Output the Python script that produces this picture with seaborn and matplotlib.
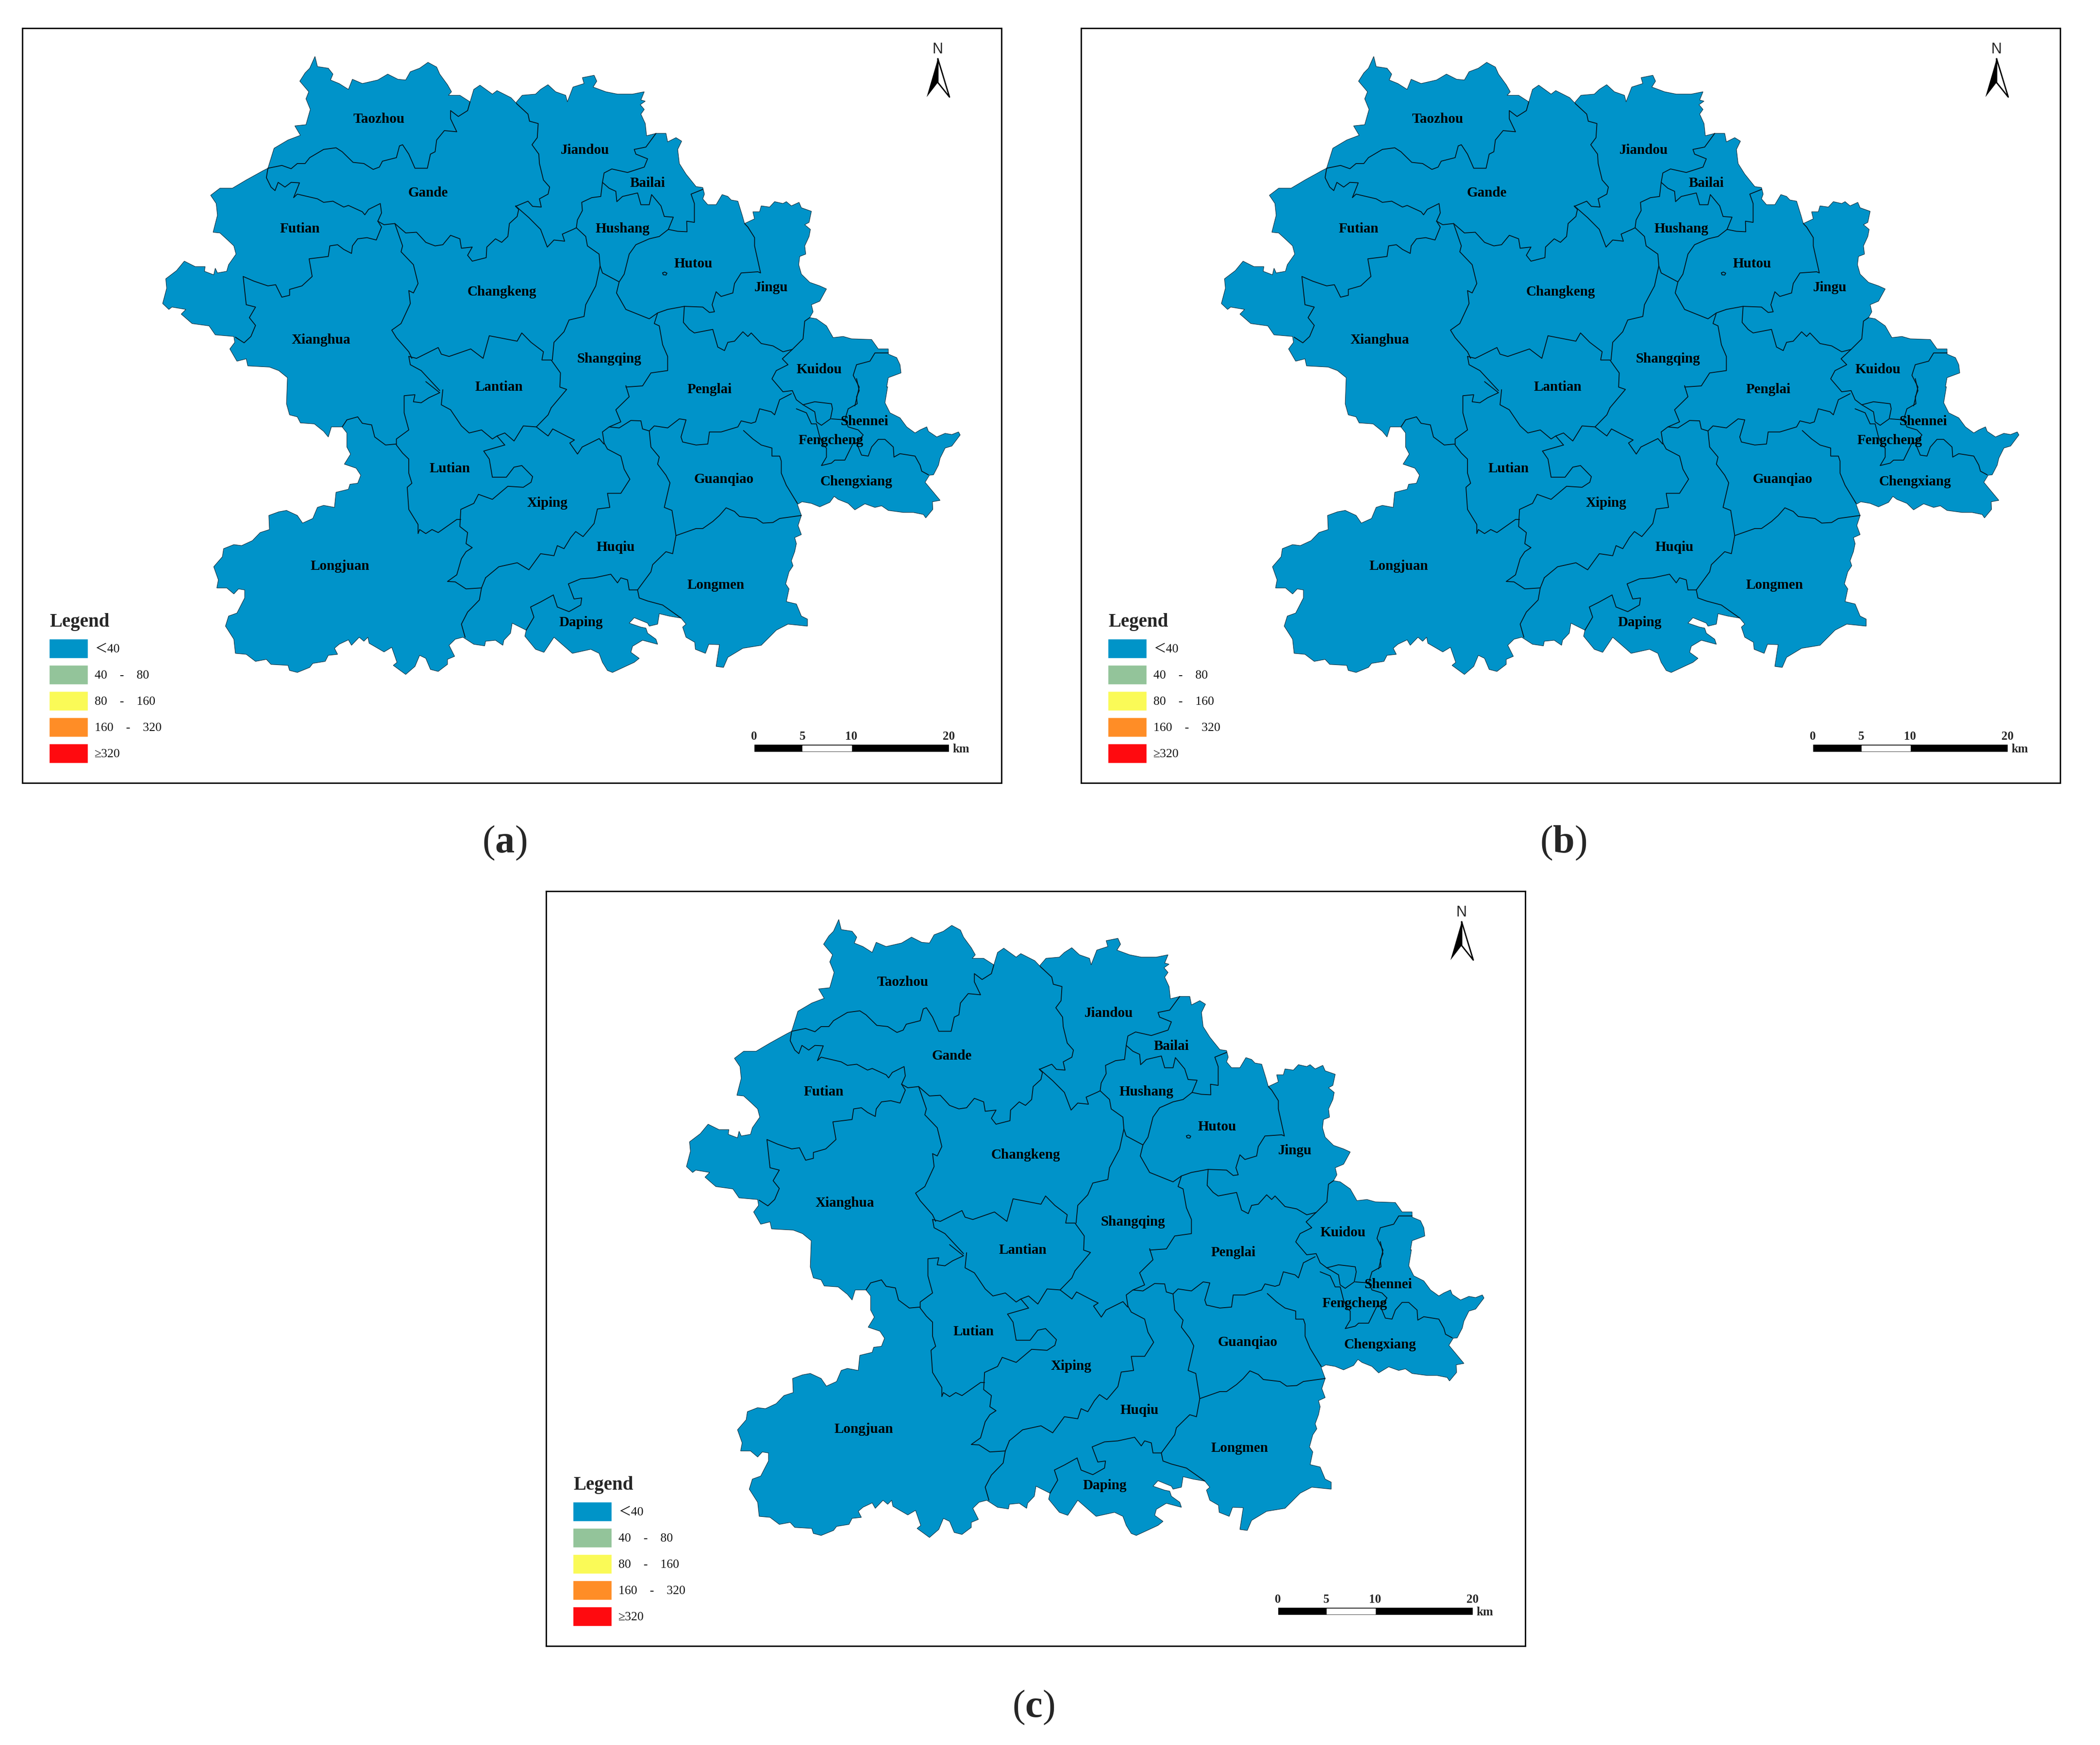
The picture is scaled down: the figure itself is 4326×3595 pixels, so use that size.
import pandas as pd
import matplotlib
matplotlib.use('Agg')
import matplotlib.pyplot as plt
import seaborn as sns

# crop windows the outlines were traced in: left, top, x scale, y scale
CROPS = {1: (300, 80, 1.568, 2.063), 2: (1000, 80, 1.452, 2.063),
         3: (300, 780, 1.568, 2.412), 4: (1000, 780, 1.452, 2.412)}

# county group outer boundary, clockwise from the Taozhou peak
outline = [
 (1, [(547,75),(555,118),(590,125),(605,150),(597,175),(625,190),(655,215),(668,172),(700,190),(750,175),(782,150),(815,172),(840,175),(855,140),(885,125),(912,100),(940,120),(950,150),(975,195),(988,225),(978,240),(1015,240),(1048,268),(1060,215),(1080,197),(1120,235),(1135,220),(1180,250),(1198,275)]),
 (2, [(92,270),(110,240),(150,235),(165,215),(187,195),(210,225),(240,240),(245,268),(262,205),(295,190),(290,165),(325,155),(333,180),(322,205),(360,225),(395,235),(440,235),(475,225),(465,260),(478,265),(463,280),(475,300),(465,320),(478,360),(482,412),(510,402),(540,402),(545,438),(570,420),(587,435),(575,470),(580,530),(600,575),(630,628),(650,632),(655,660),(650,680),(665,705),(690,705),(708,662),(725,670),(735,685),(755,690),(768,750),(775,785),(805,765),(800,735),(820,735),(825,710),(850,715),(865,692),(890,700),(900,692),(915,710),(938,695),(945,718),(975,733),(968,780),(955,790),(972,810),(968,840),(955,880),(958,915),(940,925),(937,960),(945,1000),(970,1035),(1000,1050),(1020,1063),(1000,1115),(975,1130),(980,1160),(970,1185),(990,1190),(1020,1220),(1040,1270),(1070,1265),(1095,1275),(1155,1278),(1175,1318),(1205,1318),(1205,1340),(1230,1355),(1240,1385),(1243,1420),(1205,1440),(1200,1480)]),
 (4, [(1203,40),(1195,120),(1210,170),(1240,195),(1260,240),(1285,270),(1300,255),(1320,240),(1325,262),(1350,290),(1375,272),(1395,278),(1415,265),(1420,280),(1395,335),(1375,345),(1360,395),(1355,430),(1340,478),(1328,480),(1315,515),(1335,555),(1360,605),(1337,612),(1338,650),(1317,692),(1310,675),(1280,665),(1250,665),(1205,655),(1185,632),(1165,640),(1135,622),(1105,652),(1085,620),(1055,600),(1043,585),(1030,615),(1000,637),(975,620),(947,612),(933,625),(945,680),(935,730),(945,775),(925,790),(930,820),(925,860),(915,905),(920,930),(908,960),(898,1020),(908,1045),(900,1108),(930,1120),(945,1180),(963,1195),(963,1230),(905,1220),(870,1250),(825,1325),(770,1340),(725,1385),(712,1435),(690,1430),(700,1322),(668,1320),(658,1365),(628,1345),(626,1310),(600,1285),(590,1235),(600,1220),(585,1190),(550,1180),(520,1168),(515,1220),(490,1230),(485,1215),(445,1188),(430,1215),(465,1235),(480,1240),(485,1265),(510,1295),(515,1320),(470,1300),(440,1330),(435,1360),(460,1390),(445,1410),(380,1460),(365,1450),(350,1410),(340,1365),(315,1345),(260,1365),(205,1285),(175,1360),(150,1345),(118,1280),(122,1250),(80,1215),(75,1265),(55,1300),(52,1325),(30,1300)]),
 (3, [(1098,1305),(1095,1328),(1060,1320),(1025,1285),(1000,1295),(980,1325),(998,1380),(975,1395),(975,1420),(945,1455),(920,1445),(905,1390),(885,1375),(870,1430),(840,1470),(800,1425),(812,1410),(795,1335),(770,1358),(722,1315),(718,1285),(705,1305),(690,1285),(665,1325),(655,1298),(625,1320),(610,1340),(620,1370),(590,1375),(580,1405),(540,1415),(530,1435),(490,1460),(465,1450),(460,1425),(405,1420),(390,1395),(355,1405),(325,1370),(290,1365),(285,1295),(258,1230),(268,1180),(295,1165),(320,1090),(320,1050),(300,1045),(285,1070),(262,1040),(230,1040),(235,1000),(220,935),(248,885),(252,845),(285,825),(310,830),(345,805),(370,765),(400,750),(398,680),(430,662),(455,655),(490,680),(507,718),(540,695),(555,640),(575,630),(610,640),(615,565),(655,550),(660,525),(685,520),(695,480),(680,445),(642,425),(662,375),(650,340),(650,270),(635,240),(600,240),(590,290),(575,262),(545,225),(500,220),(490,190),(465,180),(455,125),(458,0)]),
 (1, [(458,1440),(430,1410),(400,1395),(330,1390),(325,1360),(295,1370),(272,1318),(288,1290),(285,1265),(225,1258),(205,1220),(150,1210),(115,1170),(130,1150),(85,1140),(75,1150),(55,1125),(68,1060),(65,1020),(100,985),(125,945),(160,968),(192,968),(190,988),(220,1003),(225,975),(232,995),(262,988),(268,960),(292,915),(285,880),(265,855),(240,825),(218,822),(232,750),(228,700),(210,665),(240,635),(280,635),(325,600),(380,560),(395,550),(415,465),(460,430),(500,410),(482,370),(518,365),(532,300),(518,255),(527,225),(498,180),(515,145),(530,125)]),
]

# internal county borders
borders = [
 (1, [(1048,268),(1040,305),(1010,330),(985,305),(985,340),(1005,395),(965,390),(940,430),(935,480),(920,490),(910,550),(870,550),(850,490),(830,450),(820,455),(810,505),(765,520),(755,545),(735,555),(705,530),(670,525),(635,480),(615,463),(575,470),(530,505),(515,530),(490,530),(470,552),(440,538),(395,550)]),
 (1, [(395,550),(390,590),(405,630),(418,645),(428,610),(450,630),(470,610),(497,612),(478,675),(490,660),(555,680),(575,695),(605,690),(640,715),(655,708),(700,735),(708,748),(720,725),(758,700),(762,740),(750,775)]),
 (1, [(750,775),(770,790),(805,785),(840,825),(875,822),(905,865),(935,880),(960,875),(985,835),(1015,850),(1020,890),(1055,885),(1040,920),(1055,945),(1100,930),(1102,885),(1130,850),(1150,865),(1170,840),(1175,785),(1200,755),(1205,725),(1195,712)]),
 (1, [(1198,275),(1235,320),(1240,350),(1268,360),(1265,420),(1248,450),(1270,490),(1272,530),(1285,600),(1305,630),(1300,660),(1272,680),(1278,715),(1250,712),(1235,690),(1195,712)]),
 (1, [(750,775),(762,800),(745,855),(715,845),(685,850),(668,880),(665,912),(640,895),(620,875),(595,880),(590,925),(528,935),(538,1010),(505,1050),(465,1065),(465,1090),(440,1098),(420,1045),(395,1050),(350,1030),(315,1010),(325,1130),(355,1140),(335,1185),(355,1218),(340,1265),(318,1292),(290,1268)]),
 (1, [(805,785),(830,880),(825,905),(865,960),(880,1040),(865,1080),(850,1070),(855,1125),(825,1210),(795,1238),(810,1270),(850,1330),(860,1358)]),
 (1, [(850,1350),(875,1358),(945,1312),(955,1340),(980,1350),(1050,1318),(1090,1358),(1110,1262),(1200,1285),(1215,1250),(1245,1290),(1285,1330),(1280,1365),(1310,1365),(1340,1420),(1338,1480),(1360,1490),(1310,1568)]),
 (1, [(850,1350),(855,1385),(890,1410),(950,1495)]),
 (2, [(90,710),(130,760),(165,810),(185,885),(205,855),(237,860),(230,830),(262,810),(272,803),(275,770),(290,730),(288,695),(318,675),(345,670),(350,610)]),
 (2, [(272,803),(300,840),(305,880),(340,915),(343,965),(350,995),(400,1033)]),
 (2, [(343,965),(330,1050),(300,1130),(295,1180),(250,1195),(235,1245),(205,1290),(200,1365)]),
 (2, [(510,402),(480,460),(445,470),(450,490),(485,510),(475,545),(425,568),(378,553),(355,570),(350,610),(370,635),(390,648),(393,692),(410,670),(455,655),(465,705),(490,705),(497,662),(525,710),(535,755),(562,758),(547,810)]),
 (2, [(547,810),(520,840),(490,850),(450,875),(430,915),(415,1000),(400,1033),(392,1080),(420,1150),(490,1190),(515,1165),(545,1150),(595,1137),(650,1140),(670,1163),(685,1160),(678,1130),(690,1075),(705,1095),(740,1080),(745,1040),(765,995),(815,990),(823,995),(805,880),(805,845),(785,800),(775,785)]),
 (2, [(650,640),(615,660),(625,700),(625,780),(602,775),(603,820),(575,818),(547,810)]),
 (2, [(595,1137),(592,1205),(610,1235),(625,1250),(680,1235),(695,1310),(715,1325),(725,1290),(745,1285),(770,1245),(785,1265),(795,1250),(825,1295),(860,1305),(890,1330),(918,1320),(950,1275),(955,1200),(970,1185)]),
 (2, [(918,1320),(888,1360),(905,1385),(870,1410),(857,1445),(890,1500),(918,1495)]),
 (2, [(1205,1335),(1165,1335),(1150,1370),(1110,1385),(1100,1430),(1118,1480),(1105,1560)]),
 (2, [(515,1165),(505,1210),(520,1220),(530,1300),(545,1350),(545,1410),(495,1420),(470,1475),(420,1480)]),
 (2, [(530,995),(536,991),(543,996),(540,1004),(532,1003),(530,995)]),
 (4, [(918,60),(930,105),(950,130),(985,115),(1035,125),(1038,150),(1032,200),(1005,232),(990,215),(985,165),(950,130)]),
 (4, [(1110,0),(1118,60),(1110,90),(1112,125),(1085,150),(1075,205),(1035,200)]),
 (4, [(1075,205),(1085,240),(1115,255),(1130,280),(1110,320),(1125,380),(1145,385),(1155,340),(1175,302),(1195,302),(1220,340),(1222,390),(1240,373),(1285,385),(1300,430),(1305,460),(1325,478)]),
 (4, [(930,150),(960,170),(975,225),(990,225),(1000,290),(1010,330),(1020,345),(1020,390),(1005,432),(1035,420),(1045,405),(1075,405),(1100,320),(1110,320)]),
 (4, [(915,75),(880,105),(865,180),(855,165),(820,150),(808,215),(795,222),(765,210),(755,240),(705,265),(670,265),(665,325),(630,330),(590,315),(585,290),(600,205),(580,200),(545,245),(505,235),(490,260),(470,250),(465,210),(435,208),(400,245),(370,240),(350,265),(355,320)]),
 (4, [(772,258),(800,300),(825,330),(857,345),(857,385),(880,385),(885,410),(885,470),(900,530),(933,620)]),
 (4, [(490,260),(495,340),(520,390),(515,425),(540,480),(552,518),(535,640),(558,655),(570,780)]),
 (4, [(570,780),(630,745),(650,745),(680,710),(700,680),(720,642),(745,660),(760,685),(810,695),(830,718),(860,715),(880,695),(945,680)]),
 (4, [(570,780),(560,870),(540,860),(500,925),(495,960),(455,1050),(460,1090),(485,1105),(530,1125),(585,1190)]),
 (4, [(203,1075),(165,1110),(135,1135),(145,1185),(122,1250)]),
 (4, [(203,1075),(215,1135),(250,1158),(285,1125),(288,1090),(265,1095),(248,1020),(285,995),(325,990),(375,972),(395,1015),(405,990),(425,1000),(430,1050),(455,1050)]),
 (4, [(420,35),(430,90),(390,155),(405,215),(370,240)]),
 (4, [(355,320),(365,350),(405,385),(415,450),(432,500),(405,570),(365,570),(372,640),(335,648),(325,720),(292,785),(270,760),(255,790),(235,845),(215,830),(205,880),(165,870),(130,950),(95,915),(40,935),(0,990)]),
 (3, [(1098,990),(1085,1040),(1035,1045),(1000,1010),(975,1008),(1005,975),(1020,895),(1035,860),(1055,840),(1035,820),(1040,765),(1015,735),(1018,650),(1060,620),(1075,575),(1120,600),(1170,535),(1220,540),(1245,515),(1250,487),(1215,432),(1190,440),(1165,490),(1120,490),(1110,400),(1092,360),(1160,330)]),
 (3, [(1085,1040),(1078,1100),(1040,1160),(1020,1220),(1032,1285)]),
 (3, [(1018,700),(1005,700),(945,765),(925,750),(905,770),(885,750),(880,770),(880,725),(850,650),(845,540),(860,520),(850,470),(850,400),(830,370),(810,330),(810,300),(850,255),(835,170),(835,85),(870,80),(865,115),(890,120),(915,95),(950,70),(905,15)]),
 (3, [(960,55),(955,130),(985,155),(1020,235),(1045,270),(1085,255),(1120,300),(1135,285),(1160,270),(1190,310),(1220,235),(1262,240)]),
 (3, [(1135,285),(1160,330)]),
 (3, [(635,240),(650,205),(685,190),(700,222),(730,230),(740,290),(775,330),(810,325)]),
 (3, [(1310,145),(1300,180),(1262,240),(1300,285),(1315,250),(1365,290),(1385,305),(1370,320),(1395,375),(1410,340),(1465,298),(1480,325)]),
]

county_names = ['Taozhou', 'Gande', 'Jiandou', 'Bailai', 'Futian', 'Hushang', 'Hutou', 'Jingu',
                'Changkeng', 'Xianghua', 'Shangqing', 'Kuidou', 'Lantian', 'Penglai', 'Shennei',
                'Fengcheng', 'Lutian', 'Guanqiao', 'Chengxiang', 'Xiping', 'Huqiu', 'Longjuan',
                'Longmen', 'Daping']
name_x = [283, 320, 437, 484, 224, 465, 518, 576, 375, 240, 455, 612, 373, 530, 646, 621, 336, 541, 640, 409, 460, 254, 535, 434]
name_y = [88, 143, 111, 136, 170, 170, 196, 214, 217, 253, 267, 275, 288, 290, 314, 328, 349, 357, 359, 375, 408, 422, 436, 464]

legend_labels = ['＜40', '40    -    80', '80    -    160', '160    -    320', '≥320']
legend_colors = ['#0094C8', '#93C49A', '#FAFA57', '#FF8D26', '#FF0A0F']
legend_y = [1336, 1390, 1444, 1498, 1552]
scale_km = [0, 5, 10, 20]
panel_tags = ['a', 'b', 'c']
panel_left = [46, 2227, 1125]
panel_top = [58, 58, 1836]
PANEL_W, PANEL_H = 2017, 1555
DISP = 2.757  # reference px per traced preview px
MAP_BLUE = '#0093C9'
W, H = 4326, 3595


def to_px(crop, pts):
    x0, y0, sx, sy = CROPS[crop]
    return [(x0 + p[0] / sx, y0 + p[1] / sy) for p in pts]


sns.set_theme(style='white')
plt.rcParams['font.family'] = ['Liberation Serif', 'Noto Sans CJK SC', 'DejaVu Serif']
plt.rcParams['mathtext.fontset'] = 'custom'
plt.rcParams['mathtext.rm'] = 'Liberation Serif'
plt.rcParams['mathtext.bf'] = 'Liberation Serif:bold'

outer_pts = []
for crop, pts in outline:
    outer_pts += to_px(crop, pts)
outer = pd.DataFrame(outer_pts, columns=['x', 'y'])

rows = []
for i, (crop, pts) in enumerate(borders):
    for x, y in to_px(crop, pts):
        rows.append({'arc': i, 'x': x, 'y': y})
arcs = pd.DataFrame(rows)

fig = plt.figure(figsize=(W / 100, H / 100), dpi=100)

for tag, left, top in zip(panel_tags, panel_left, panel_top):
    ax = fig.add_axes([left / W, 1 - (top + PANEL_H) / H, PANEL_W / W, PANEL_H / H])
    ax.fill(outer['x'], outer['y'], facecolor=MAP_BLUE, edgecolor='#10303F', linewidth=0.8, zorder=1)
    sns.lineplot(data=arcs, x='x', y='y', units='arc', estimator=None, sort=False,
                 color='#03141E', linewidth=1.3, legend=False, ax=ax, zorder=2)

    for name, nx, ny in zip(county_names, name_x, name_y):
        ax.text(nx * DISP, ny * DISP + 3, name, fontsize=21, fontweight='bold', color='black',
                ha='center', va='center', zorder=3)

    # legend
    ax.text(102, 1281, 'Legend', fontsize=28, fontweight='bold', va='center', ha='left')
    ax.barh(legend_y, 80, left=101, height=40, color=legend_colors, zorder=2)
    for lab, ly in zip(legend_labels, legend_y):
        ax.text(195, ly + 2, lab, fontsize=18.5, va='center', ha='left', color='#111111')

    # scale bar, 20 km = 402 px
    bar_x = lambda km: 1553 + km * 402 / 20
    ax.barh(1541, 402, left=1553, height=16, color='black', zorder=2)
    ax.barh(1541, bar_x(10) - bar_x(5), left=bar_x(5), height=11, color='white', zorder=3)
    for km in scale_km:
        ax.text(bar_x(km), 1517, str(km), fontsize=18, fontweight='bold', ha='center', va='center')
    ax.text(1962, 1543, 'km', fontsize=18, fontweight='bold', ha='left', va='center')

    # north arrow
    ax.fill([1932, 1909, 1932], [121, 200, 170], color='black', linewidth=0, zorder=2)
    ax.plot([1932, 1956, 1932, 1932], [121, 200, 170, 121], color='black', linewidth=2, zorder=2)
    ax.text(1932, 102, 'N', fontsize=22, family='Liberation Sans', ha='center', va='center')

    ax.set_xlim(46, 46 + PANEL_W)
    ax.set_ylim(58 + PANEL_H, 58)
    ax.set_xticks([])
    ax.set_yticks([])
    ax.set_xlabel('')
    ax.set_ylabel('')
    for s in ax.spines.values():
        s.set_visible(True)
        s.set_color('black')
        s.set_linewidth(2)

fig.text(377 * DISP / W, 1 - (627 * DISP + 8) / H, r'($\mathbf{a}$)', fontsize=58, ha='center', va='center')
fig.text(1168 * DISP / W, 1 - (627 * DISP + 8) / H, r'($\mathbf{b}$)', fontsize=58, ha='center', va='center')
fig.text(772 * DISP / W, 1 - (1273 * DISP + 8) / H, r'($\mathbf{c}$)', fontsize=58, ha='center', va='center')

fig.savefig('out.png', dpi=100, facecolor='white')
